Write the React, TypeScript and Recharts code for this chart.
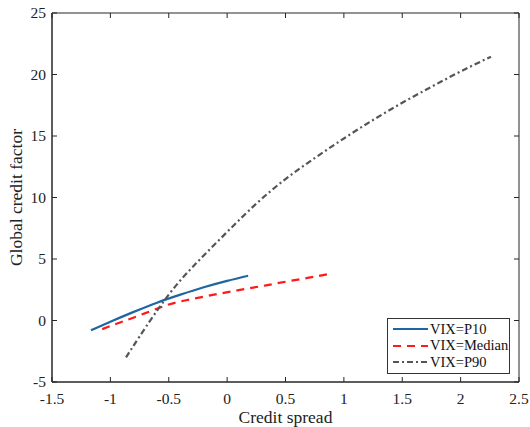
import React from "react";
import {
  LineChart,
  Line,
  XAxis,
  YAxis,
  ReferenceArea,
  ReferenceLine,
  Legend,
} from "recharts";

const p10X = [-1.166, -1.0, -0.8, -0.6, -0.4, -0.2, 0, 0.18];
const p10Y = [-0.8, -0.1, 0.7, 1.45, 2.1, 2.7, 3.22, 3.64];

const medianX = [-1.07, -0.9, -0.7, -0.5, -0.3, -0.1, 0.1, 0.3, 0.5, 0.7, 0.87];
const medianY = [-0.7, -0.1, 0.6, 1.3, 1.75, 2.12, 2.47, 2.8, 3.15, 3.48, 3.78];

const p90X = [-0.866, -0.75, -0.5, -0.25, 0, 0.25, 0.5, 0.75, 1.0, 1.25, 1.5, 1.75, 2.0, 2.26];
const p90Y = [-3.0, -1.3, 2.1, 4.8, 7.2, 9.5, 11.5, 13.2, 14.8, 16.3, 17.7, 19.0, 20.25, 21.45];

const xTicks = [-1.5, -1, -0.5, 0, 0.5, 1, 1.5, 2, 2.5];
const yTicks = [-5, 0, 5, 10, 15, 20, 25];

const toPoints = (xs: number[], ys: number[]) => xs.map((x, i) => ({ x, y: ys[i] }));

const series = [
  { name: "VIX=P10", data: toPoints(p10X, p10Y), color: "#1f65a0", dash: undefined },
  { name: "VIX=Median", data: toPoints(medianX, medianY), color: "#ff1a1a", dash: "8 6" },
  { name: "VIX=P90", data: toPoints(p90X, p90Y), color: "#555555", dash: "6 3 2 3" },
];

const FONT = "'Liberation Serif', 'Times New Roman', serif";
const AXIS = "#262626";
const TEXT = "#222";

const X_MIN = -1.5;
const X_MAX = 2.5;
const Y_MIN = -5;
const Y_MAX = 25;

// plot box edges (px)
const LEFT = 52;
const RIGHT = 519;
const TOP = 13;
const BOTTOM = 382;
const TICK = 5;
// tick length in data units, for the mirrored top/right ticks
const TICK_X = (TICK * (X_MAX - X_MIN)) / (RIGHT - LEFT);
const TICK_Y = (TICK * (Y_MAX - Y_MIN)) / (BOTTOM - TOP);

const BottomTick = (props: any) => (
  <g>
    <line x1={props.x} y1={BOTTOM} x2={props.x} y2={BOTTOM - TICK} stroke={AXIS} />
    <text x={props.x} y={404} textAnchor="middle" fontSize={15.5} fill={TEXT} fontFamily={FONT}>
      {props.payload.value}
    </text>
  </g>
);

const LeftTick = (props: any) => (
  <g>
    <line x1={LEFT} y1={props.y} x2={LEFT + TICK} y2={props.y} stroke={AXIS} />
    <text x={46} y={props.y} dy="0.35em" textAnchor="end" fontSize={15.5} fill={TEXT} fontFamily={FONT}>
      {props.payload.value}
    </text>
  </g>
);

const renderLegend = () => (
  <div
    style={{
      border: "1px solid #333",
      background: "#fff",
      width: 121,
      padding: "2px 0",
      fontFamily: FONT,
      fontSize: 14.5,
      color: "#111",
    }}
  >
    {series.map((s) => (
      <div key={s.name} style={{ display: "flex", alignItems: "center", height: 16.5 }}>
        <svg width={40} height={10} style={{ marginLeft: 4 }}>
          <line x1={1} y1={5} x2={36} y2={5} stroke={s.color} strokeWidth={2} strokeDasharray={s.dash} />
        </svg>
        <span style={{ marginLeft: -2 }}>{s.name}</span>
      </div>
    ))}
  </div>
);

export default function App() {
  return (
    <div style={{ position: "absolute", left: 0, top: 0, width: 530, height: 427, background: "#fff" }}>
      <LineChart
        width={530}
        height={427}
        margin={{ top: TOP, right: 530 - RIGHT, bottom: 0, left: 0 }}
        style={{ fontFamily: FONT }}
      >
        <XAxis
          dataKey="x"
          type="number"
          domain={[X_MIN, X_MAX]}
          ticks={xTicks}
          height={427 - BOTTOM}
          stroke={AXIS}
          tickLine={false}
          tick={<BottomTick />}
          allowDataOverflow
          label={{
            content: () => (
              <text x={285.5} y={423} textAnchor="middle" fontSize={17.5} fill={TEXT} fontFamily={FONT}>
                Credit spread
              </text>
            ),
          }}
        />
        <YAxis
          type="number"
          domain={[Y_MIN, Y_MAX]}
          ticks={yTicks}
          width={LEFT}
          stroke={AXIS}
          tickLine={false}
          tick={<LeftTick />}
          allowDataOverflow
          label={{
            content: () => (
              <text
                x={22}
                y={197.5}
                transform="rotate(-90 22 197.5)"
                textAnchor="middle"
                fontSize={17.5}
                fill={TEXT}
                fontFamily={FONT}
              >
                Global credit factor
              </text>
            ),
          }}
        />
        {/* plot frame */}
        <ReferenceArea
          x1={X_MIN}
          x2={X_MAX}
          y1={Y_MIN}
          y2={Y_MAX}
          fill="none"
          fillOpacity={0}
          stroke={AXIS}
          strokeOpacity={1}
          strokeWidth={1}
          ifOverflow="visible"
        />
        {/* mirrored inward ticks on the top and right edges */}
        {xTicks.map((t) => (
          <ReferenceLine
            key={"tx" + t}
            segment={[{ x: t, y: Y_MAX }, { x: t, y: Y_MAX - TICK_Y }]}
            stroke={AXIS}
            ifOverflow="visible"
          />
        ))}
        {yTicks.map((t) => (
          <ReferenceLine
            key={"ty" + t}
            segment={[{ x: X_MAX, y: t }, { x: X_MAX - TICK_X, y: t }]}
            stroke={AXIS}
            ifOverflow="visible"
          />
        ))}
        {series.map((s) => (
          <Line
            key={s.name}
            data={s.data}
            dataKey="y"
            name={s.name}
            type="natural"
            stroke={s.color}
            strokeWidth={2.2}
            strokeDasharray={s.dash}
            dot={false}
            activeDot={false}
            isAnimationActive={false}
          />
        ))}
        <Legend
          layout="vertical"
          align="center"
          verticalAlign="middle"
          content={renderLegend}
          wrapperStyle={{ left: 387, top: 318, width: 123 }}
        />
      </LineChart>
    </div>
  );
}
